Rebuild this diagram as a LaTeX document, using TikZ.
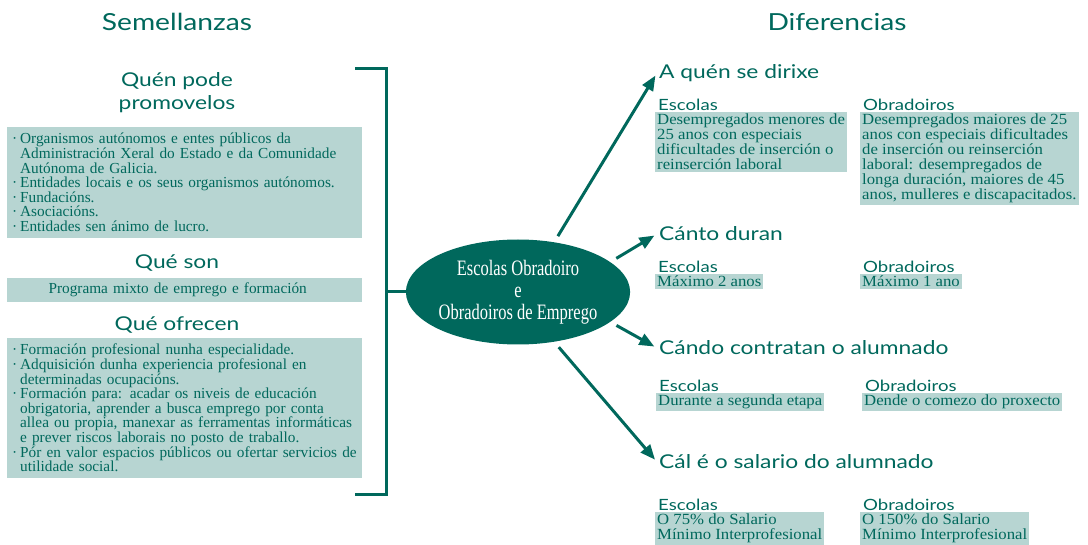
\documentclass[tikz,border=0pt]{standalone}
\usepackage{fontspec}
\setmainfont{Liberation Serif}
\newfontfamily\bodyfont[FakeStretch=1.08]{Liberation Serif}
\newfontfamily\lbodyfont{Liberation Serif}
\newfontfamily\ovalfont[FakeStretch=0.75]{Liberation Serif}
\newfontfamily\headfont[FakeStretch=1.2]{Lato}
\usetikzlibrary{positioning, arrows.meta, shapes.geometric}

\definecolor{ebTeal}{RGB}{0,104,92}
\definecolor{ebPale}{RGB}{183,213,210}
\setlength{\lineskiplimit}{-20pt}

% bullet and hanging indent for the lists
\newcommand{\bu}{\hspace*{4pt}\makebox[8pt][l]{·}}
\newcommand{\bi}{\hspace*{12pt}}

\begin{document}
\begin{tikzpicture}[
    x=1pt, y=-1pt,
    title/.style={font=\headfont\fontsize{23.5}{26}\selectfont, text=ebTeal},
    head/.style={font=\headfont\fontsize{19}{23}\selectfont, text=ebTeal, align=center},
    rhead/.style={font=\headfont\fontsize{19}{23}\selectfont, text=ebTeal, anchor=west, inner sep=2pt},
    sub/.style={font=\headfont\fontsize{15.5}{17}\selectfont, text=ebTeal, inner sep=1pt},
    body/.style={font=\bodyfont\fontsize{15.5}{15}\selectfont, text=ebTeal},
    lbox/.style={font=\lbodyfont\fontsize{15.3}{14.6}\selectfont, text=ebTeal, fill=ebPale, text width=353pt, inner xsep=1pt, inner ysep=6pt, anchor=north west, align=left},
    rbox/.style={body, fill=ebPale, inner xsep=2pt, inner ysep=2pt, anchor=north west, align=left},
    oval/.style={ellipse, fill=ebTeal, text=white, minimum width=197pt, minimum height=105pt, inner sep=0pt, align=center, font=\ovalfont\fontsize{22}{22}\selectfont},
    arr/.style={-{Triangle[length=15pt, width=12pt]}, draw=ebTeal, line width=3pt, shorten <=7pt, shorten >=3pt},
    brace/.style={draw=ebTeal, line width=3pt}
]
    \useasboundingbox (0,0) rectangle (1088,545);

    % Titles
    \node[title] (sem) at (177,22) {Semellanzas};
    \node[title] (dif) at (837,22) {Diferencias};

    % Semellanzas
    \node[head] (qpode) at (177,93) {Quén pode\\promovelos};
    \node[lbox] (lb1) at (7,127) {\bu Organismos autónomos e entes públicos da\\
        \bi Administración Xeral do Estado e da Comunidade\\
        \bi Autónoma de Galicia.\\
        \bu Entidades locais e os seus organismos autónomos.\\
        \bu Fundacións.\\
        \bu Asociacións.\\
        \bu Entidades sen ánimo de lucro.};

    \node[head] (qson) at (177,263) {Qué son};
    \node[lbox, align=center, inner ysep=5pt] (lb2) at (7,278) {\hspace*{-14pt}Programa mixto de emprego e formación};

    \node[head] (qofr) at (177,325) {Qué ofrecen};
    \node[lbox] (lb3) at (7,338) {\bu Formación profesional nunha especialidade.\\
        \bu Adquisición dunha experiencia profesional en\\
        \bi determinadas ocupacións.\\
        \bu Formación para: acadar os niveis de educación\\
        \bi obrigatoria, aprender a busca emprego por conta\\
        \mbox{\bi allea ou propia, manexar as ferramentas informáticas}\\
        \bi e prever riscos laborais no posto de traballo.\\
        \mbox{\bu Pór en valor espacios públicos ou ofertar servicios de}\\
        \bi utilidade social.};

    % Bracket and centre
    \coordinate (btop) at (355,69);
    \coordinate (bbot) at (355,494);
    \coordinate (bmid) at (386,292);
    \draw[brace] (btop) -- ++(31,0) |- (bbot);

    \node[oval] (core) at (518,292) {Escolas Obradoiro\\e\\Obradoiros de Emprego};
    \draw[brace] (bmid) -- (core.west);

    % Diferencias
    \node[rhead] (h1) at (657,73) {A quén se dirixe};
    \node[rhead] (h2) at (657,234) {Cánto duran};
    \node[rhead] (h3) at (657,348) {Cándo contratan o alumnado};
    \node[rhead] (h4) at (657,462) {Cál é o salario do alumnado};

    \foreach \a/\h in {54/h1, 18/h2, -18/h3, -54/h4}
        \draw[arr] (core.\a) -- (\h.west);

    \node[rbox] (e1) at (655,112) {Desempregados menores de\\25 anos con especiais\\dificultades de inserción o\\reinserción laboral};
    \node[rbox] (o1) at (860,112) {Desempregados maiores de 25\\anos con especiais dificultades\\de inserción ou reinserción\\laboral: desempregados de\\longa duración, maiores de 45\\anos, mulleres e discapacitados.};

    \node[rbox] (e2) at (655,274) {Máximo 2 anos};
    \node[rbox] (o2) at (860,274) {Máximo 1 ano};

    \node[rbox] (e3) at (656,393) {Durante a segunda etapa};
    \node[rbox] (o3) at (862,393) {Dende o comezo do proxecto};

    \node[rbox] (e4) at (655,512) {O 75\% do Salario\\Mínimo Interprofesional};
    \node[rbox] (o4) at (860,512) {O 150\% do Salario\\Mínimo Interprofesional};

    % Escolas / Obradoiros labels over each box
    \foreach \i in {1,2,3,4} {
        \node[sub, above right=0pt and 2pt of e\i.north west] (se\i) {Escolas};
        \node[sub, above right=0pt and 2pt of o\i.north west] (so\i) {Obradoiros};
    }
\end{tikzpicture}
\end{document}
